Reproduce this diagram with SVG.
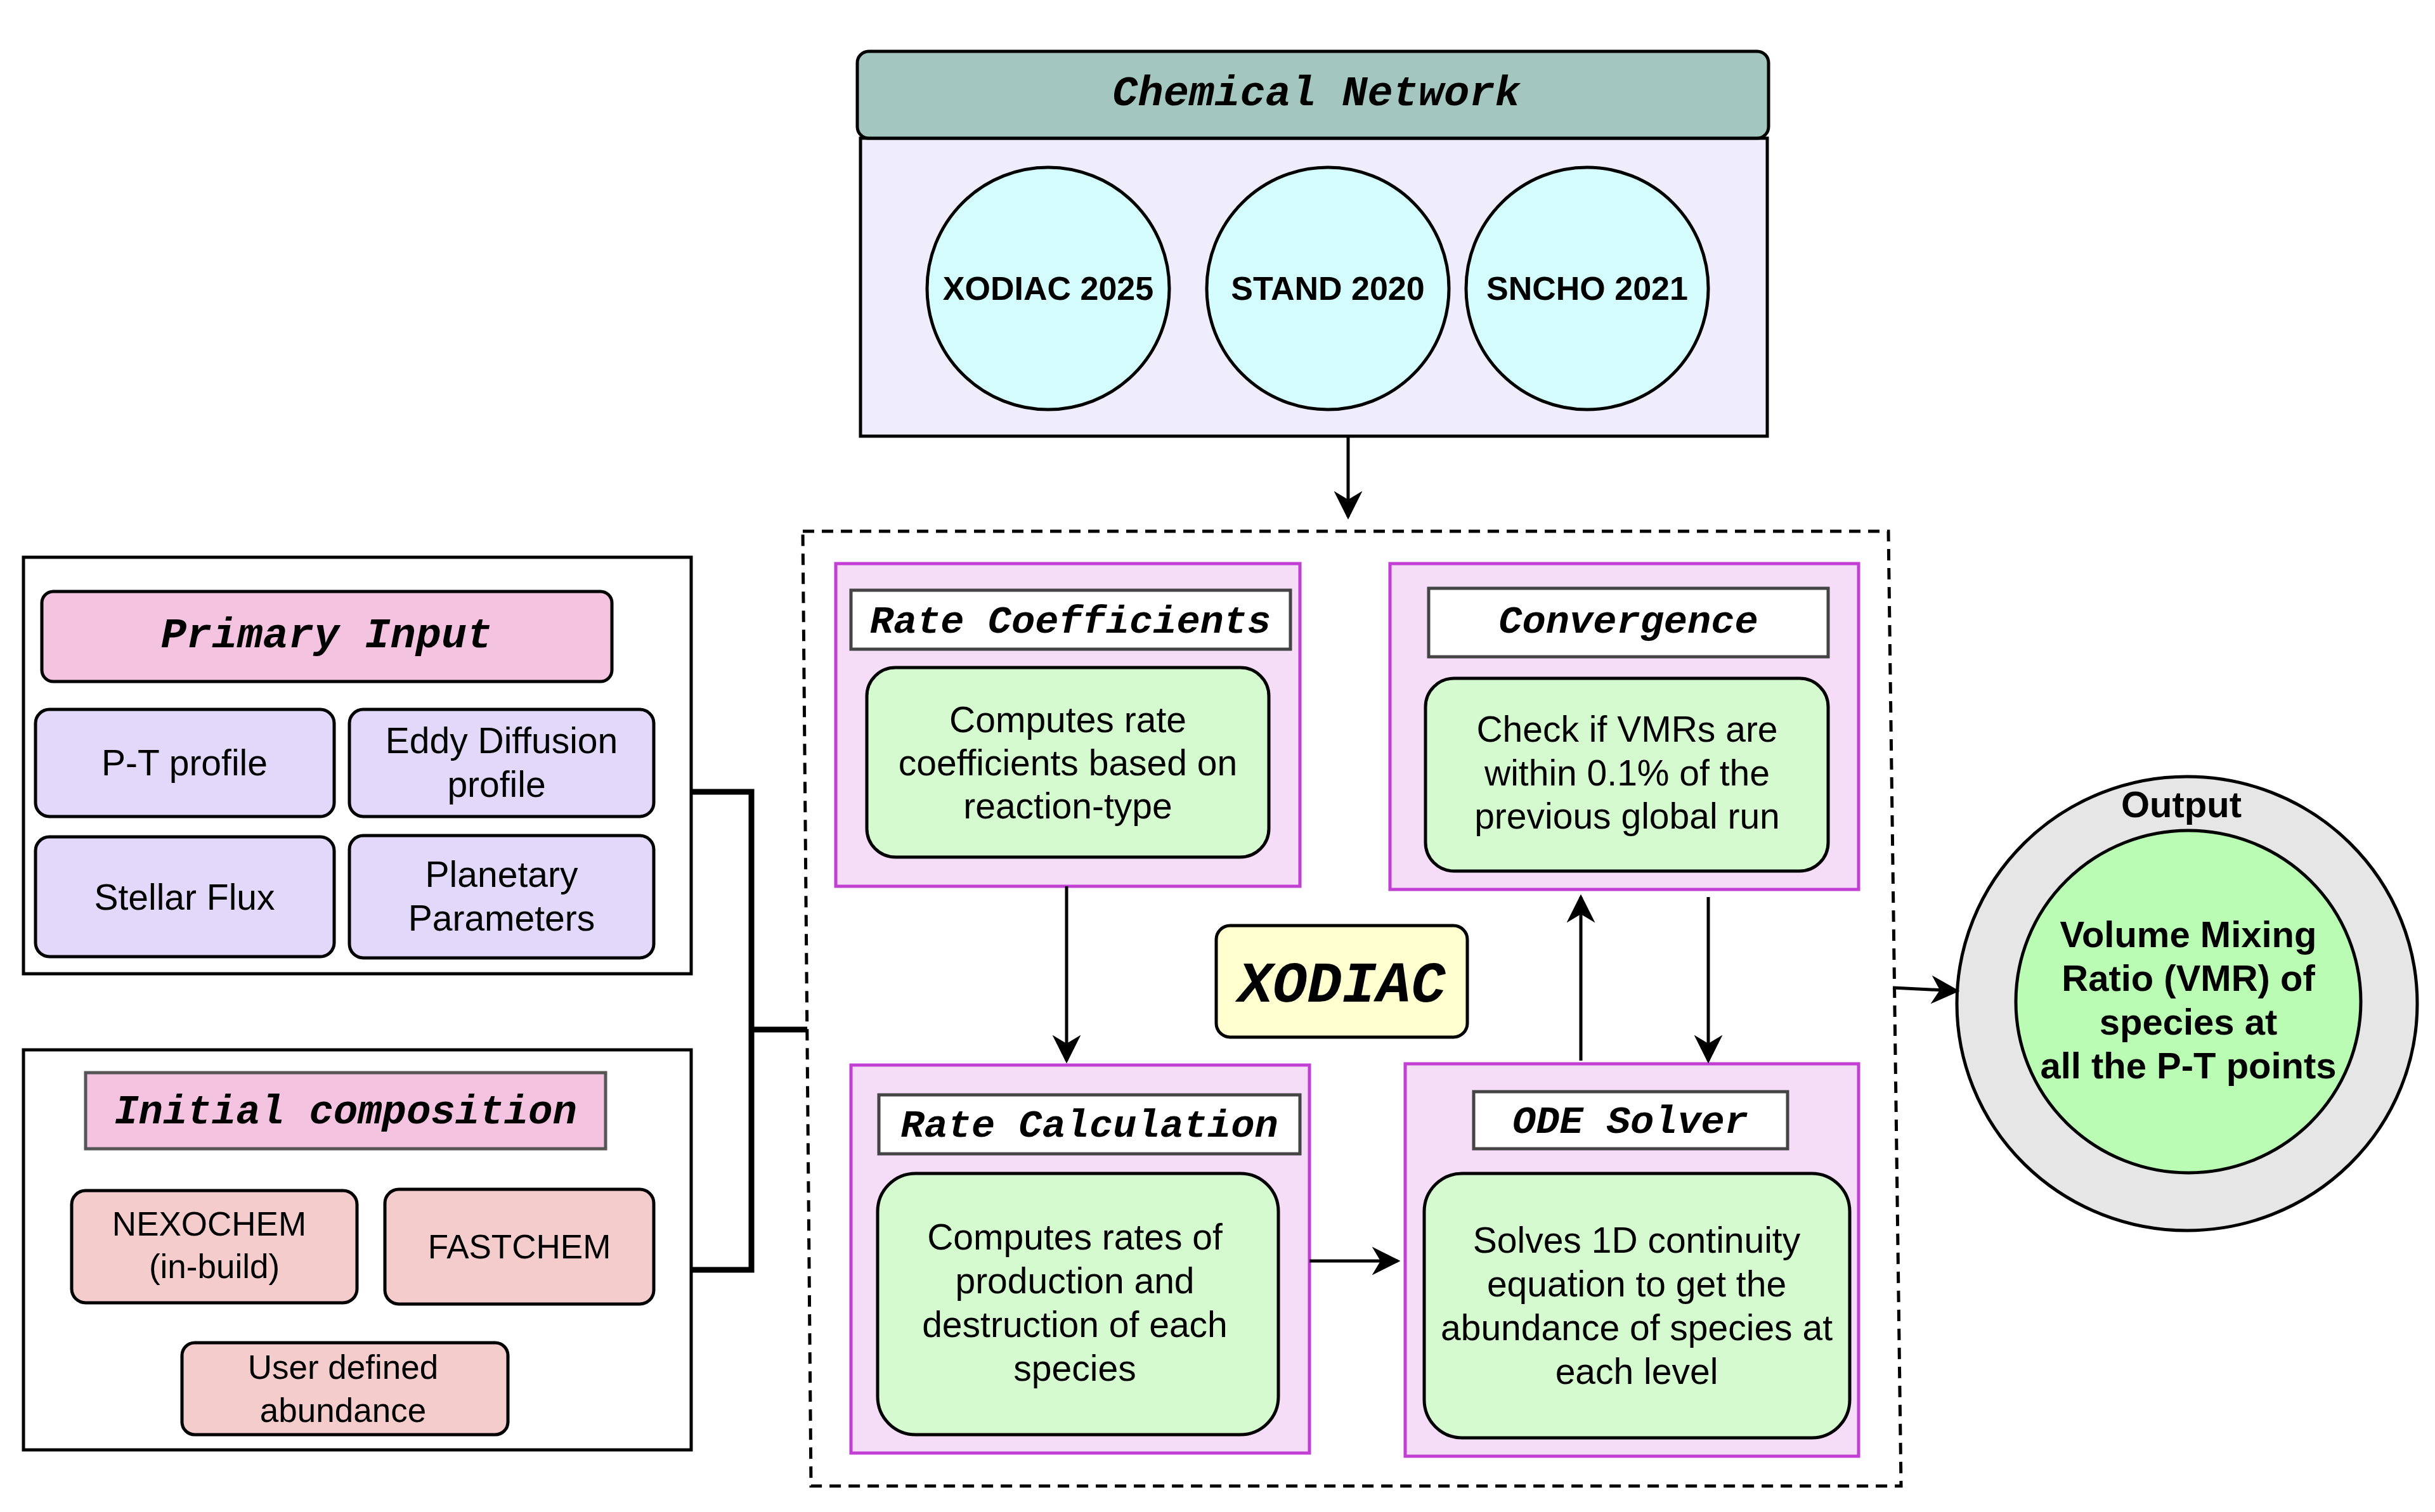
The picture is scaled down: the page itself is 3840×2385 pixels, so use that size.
<svg xmlns="http://www.w3.org/2000/svg" width="3840" height="2385" viewBox="0 0 3840 2385">
<style>
.t{font-family:"Liberation Mono",monospace;font-weight:bold;font-style:italic;font-size:64px;text-anchor:middle;fill:#000}
.b{font-family:"Liberation Sans",Arial,sans-serif;font-size:57px;text-anchor:middle;fill:#000}
.bb{font-family:"Liberation Sans",Arial,sans-serif;font-size:52px;font-weight:bold;text-anchor:middle;fill:#000}
.ob{font-family:"Liberation Sans",Arial,sans-serif;font-size:58px;font-weight:bold;text-anchor:middle;fill:#000}
.frame{fill:#fff;stroke:#000;stroke-width:5}
.lav{fill:#E2D9FA;stroke:#000;stroke-width:5}
.pinkh{fill:#F4C3E0;stroke:#000;stroke-width:5}
.salmon{fill:#F5CCCC;stroke:#000;stroke-width:5}
.mag{fill:#F5DDF8;stroke:#C13FD2;stroke-width:5}
.hdr{fill:#fff;stroke:#444;stroke-width:5}
.grn{fill:#D5FAD0;stroke:#000;stroke-width:5}
.cy{fill:#D5FCFC;stroke:#000;stroke-width:5}
.ln{fill:none;stroke:#000;stroke-width:5}
</style>
<defs><marker id="ah" viewBox="0 0 10 10" refX="9" refY="5" markerWidth="9" markerHeight="9" orient="auto"><path d="M0,0 L10,5 L0,10 L3,5 Z" fill="#000"/></marker></defs>
<rect width="3840" height="2385" fill="#fff"/>
<g id="chemical-network">
<rect x="1357" y="218" width="1430" height="470" fill="#EFEDFC" stroke="#000" stroke-width="5"/>
<rect x="1352" y="81" width="1437" height="137" rx="18" fill="#A3C6BE" stroke="#000" stroke-width="5"/>
<text class="t" x="2076" y="166" style="font-size:67px">Chemical Network</text>
<circle class="cy" cx="1653" cy="455" r="191"/><text class="bb" x="1653" y="473">XODIAC 2025</text>
<circle class="cy" cx="2094" cy="455" r="191"/><text class="bb" x="2094" y="473">STAND 2020</text>
<circle class="cy" cx="2503" cy="455" r="191"/><text class="bb" x="2503" y="473">SNCHO 2021</text>
</g>
<g id="primary-input">
<rect class="frame" x="37" y="879" width="1053" height="657"/>
<rect class="pinkh" x="66" y="933" width="899" height="142" rx="18"/><text class="t" x="515" y="1021" style="font-size:67px">Primary Input</text>
<rect class="lav" x="56" y="1119" width="471" height="169" rx="22"/><text class="b" x="291" y="1223">P-T profile</text>
<rect class="lav" x="551" y="1119" width="480" height="169" rx="22"/><text class="b" x="791" y="1188">Eddy Diffusion</text><text class="b" x="783" y="1257">profile</text>
<rect class="lav" x="56" y="1320" width="471" height="189" rx="22"/><text class="b" x="291" y="1435">Stellar Flux</text>
<rect class="lav" x="551" y="1318" width="480" height="193" rx="22"/><text class="b" x="791" y="1399">Planetary</text><text class="b" x="791" y="1468">Parameters</text>
</g>
<g id="initial-composition">
<rect class="frame" x="37" y="1656" width="1053" height="631"/>
<rect x="135" y="1692" width="820" height="120" fill="#F4C3E0" stroke="#555" stroke-width="5"/><text class="t" x="545" y="1772">Initial composition</text>
<rect class="salmon" x="113" y="1878" width="450" height="177" rx="22"/><text class="b" x="330" y="1949" style="font-size:53px">NEXOCHEM</text><text class="b" x="338" y="2016" style="font-size:53px">(in-build)</text>
<rect class="salmon" x="607" y="1876" width="424" height="181" rx="22"/><text class="b" x="819" y="1985" style="font-size:53px">FASTCHEM</text>
<rect class="salmon" x="287" y="2118" width="514" height="145" rx="20"/><text class="b" x="541" y="2175" style="font-size:53px">User defined</text><text class="b" x="541" y="2243" style="font-size:53px">abundance</text>
</g>
<g id="xodiac-frame">
<polygon points="1266,838 2978,838 2998,2344 1279,2344" fill="none" stroke="#000" stroke-width="5" stroke-dasharray="18,12"/>
</g>
<g id="rate-coefficients">
<rect class="mag" x="1318" y="889" width="732" height="509"/>
<rect class="hdr" x="1342" y="931" width="693" height="93"/><text class="t" x="1688" y="998" style="font-size:62px">Rate Coefficients</text>
<rect class="grn" x="1367" y="1053" width="634" height="299" rx="45"/>
<text class="b" x="1684" y="1155">Computes rate</text><text class="b" x="1684" y="1223">coefficients based on</text><text class="b" x="1684" y="1291">reaction-type</text>
</g>
<g id="convergence">
<rect class="mag" x="2192" y="889" width="739" height="514"/>
<rect class="hdr" x="2253" y="928" width="630" height="108"/><text class="t" x="2568" y="998" style="font-size:62px">Convergence</text>
<rect class="grn" x="2248" y="1070" width="635" height="304" rx="45"/>
<text class="b" x="2566" y="1170">Check if VMRs are</text><text class="b" x="2566" y="1239">within 0.1% of the</text><text class="b" x="2566" y="1307">previous global run</text>
</g>
<g id="xodiac">
<rect x="1918" y="1460" width="396" height="176" rx="22" fill="#FFFFD0" stroke="#000" stroke-width="5"/>
<text class="t" x="2116" y="1580" style="font-size:91px">XODIAC</text>
</g>
<g id="rate-calculation">
<rect class="mag" x="1342" y="1680" width="723" height="612"/>
<rect class="hdr" x="1386" y="1727" width="664" height="93"/><text class="t" x="1718" y="1793" style="font-size:62px">Rate Calculation</text>
<rect class="grn" x="1384" y="1851" width="632" height="412" rx="60"/>
<text class="b" x="1695" y="1971">Computes rates of</text><text class="b" x="1695" y="2040">production and</text><text class="b" x="1695" y="2109">destruction of each</text><text class="b" x="1695" y="2178">species</text>
</g>
<g id="ode-solver">
<rect class="mag" x="2216" y="1678" width="715" height="619"/>
<rect class="hdr" x="2324" y="1722" width="495" height="90"/><text class="t" x="2571" y="1787" style="font-size:62px">ODE Solver</text>
<rect class="grn" x="2246" y="1851" width="671" height="417" rx="60"/>
<text class="b" x="2581" y="1976">Solves 1D continuity</text><text class="b" x="2581" y="2045">equation to get the</text><text class="b" x="2581" y="2114">abundance of species at</text><text class="b" x="2581" y="2183">each level</text>
</g>
<g id="output">
<ellipse cx="3449" cy="1583" rx="363" ry="358" fill="#E6E6E6" stroke="#000" stroke-width="5"/>
<ellipse cx="3451" cy="1580" rx="272" ry="270" fill="#BAFCB4" stroke="#000" stroke-width="5"/>
<text class="ob" x="3440" y="1289">Output</text>
<text class="ob" x="3451" y="1494">Volume Mixing</text><text class="ob" x="3451" y="1563">Ratio (VMR) of</text><text class="ob" x="3451" y="1632">species at</text><text class="ob" x="3451" y="1701">all the P-T points</text>
</g>
<g id="connectors">
<line class="ln" x1="2126" y1="688" x2="2126" y2="815" marker-end="url(#ah)"/>
<polyline points="1090,1249 1185,1249 1185,2003 1090,2003" fill="none" stroke="#000" stroke-width="9"/>
<line x1="1185" y1="1624" x2="1273" y2="1624" stroke="#000" stroke-width="9"/>
<line class="ln" x1="1682" y1="1398" x2="1682" y2="1673" marker-end="url(#ah)"/>
<line class="ln" x1="2065" y1="1989" x2="2204" y2="1989" marker-end="url(#ah)"/>
<line class="ln" x1="2493" y1="1673" x2="2493" y2="1415" marker-end="url(#ah)"/>
<line class="ln" x1="2694" y1="1415" x2="2694" y2="1673" marker-end="url(#ah)"/>
<line class="ln" x1="2985" y1="1558" x2="3086" y2="1563" marker-end="url(#ah)"/>
</g>
</svg>
